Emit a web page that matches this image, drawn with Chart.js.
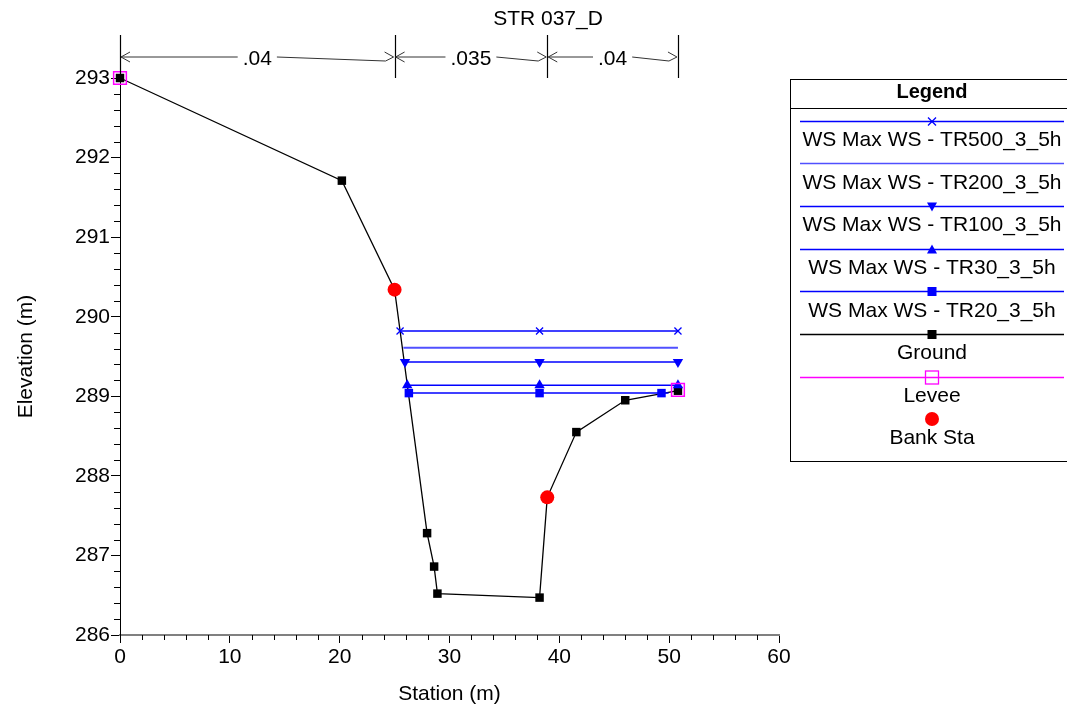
<!DOCTYPE html>
<html><head><meta charset="utf-8">
<script src="https://cdn.jsdelivr.net/npm/chart.js@4/dist/chart.umd.min.js"></script>
<style>html,body{margin:0;padding:0;background:#fff}#wrap{width:1067px;height:712px}</style>
</head><body><div id="wrap"><canvas id="c" width="1067" height="712"></canvas></div>
<script>
const FONT = '"Liberation Sans", Arial, sans-serif';
const chartTitle = 'STR 037_D';
const xLabel = 'Station (m)';
const yLabel = 'Elevation (m)';

const groundX = [0, 20.2, 25.0, 27.96, 28.6, 28.9, 38.2, 38.9, 41.55, 46.0, 50.8];
const groundY = [293.0, 291.71, 290.34, 287.28, 286.86, 286.52, 286.47, 287.73, 288.55, 288.95, 289.07];
const bankX = [25.0, 38.9];
const bankY = [290.34, 287.73];
const leveeX = [0, 50.8];
const leveeY = [293.0, 289.08];

const ws500X = [25.5, 38.2, 50.8];
const ws500Y = [289.82, 289.82, 289.82];
const ws200X = [25.8, 50.8];
const ws200Y = [289.61, 289.61];
const ws100X = [25.95, 38.2, 50.8];
const ws100Y = [289.43, 289.43, 289.43];
const ws30X = [26.15, 38.2, 50.8];
const ws30Y = [289.14, 289.14, 289.14];
const ws20X = [26.3, 38.2, 49.3, 49.95];
const ws20Y = [289.04, 289.04, 289.04, 289.04];

const nStations = [0, 25.0, 38.9, 50.8];
const nValues = ['.04', '.035', '.04'];

const xTicks = [0, 10, 20, 30, 40, 50, 60];
const yTicks = [286, 287, 288, 289, 290, 291, 292, 293];

const legendLabels = ['WS Max WS - TR500_3_5h', 'WS Max WS - TR200_3_5h', 'WS Max WS - TR100_3_5h',
  'WS Max WS - TR30_3_5h', 'WS Max WS - TR20_3_5h', 'Ground', 'Levee', 'Bank Sta'];

const BLUE = '#0000ff';
const BLUE2 = '#5050ff';

function pts(xs, ys) { return xs.map((x, i) => ({x: x, y: ys[i]})); }

const datasets = [
  {label: legendLabels[7], data: pts(bankX, bankY), showLine: false, pointStyle: 'circle', pointRadius: 7,
   backgroundColor: '#ff0000', borderColor: '#ff0000', pointBorderWidth: 0},
  {label: legendLabels[6], data: pts(leveeX, leveeY), showLine: false, pointStyle: 'rect', pointRadius: 9,
   backgroundColor: 'rgba(0,0,0,0)', borderColor: '#ff00ff', pointBorderWidth: 1.5},
  {label: legendLabels[4], data: pts(ws20X, ws20Y), pointStyle: 'rect', pointRadius: [6, 6, 6, 0],
   backgroundColor: BLUE, borderColor: BLUE, borderWidth: 1.5, pointBorderWidth: 0},
  {label: legendLabels[3], data: pts(ws30X, ws30Y), pointStyle: 'triangle', pointRadius: 6,
   backgroundColor: BLUE, borderColor: BLUE, borderWidth: 1.5, pointBorderWidth: 0},
  {label: legendLabels[2], data: pts(ws100X, ws100Y), pointStyle: 'triangle', pointRotation: 180, pointRadius: 6,
   backgroundColor: BLUE, borderColor: BLUE, borderWidth: 1.5, pointBorderWidth: 0},
  {label: legendLabels[1], data: pts(ws200X, ws200Y), pointRadius: 0,
   backgroundColor: BLUE2, borderColor: BLUE2, borderWidth: 2},
  {label: legendLabels[0], data: pts(ws500X, ws500Y), pointStyle: 'crossRot', pointRadius: 5,
   backgroundColor: BLUE, borderColor: BLUE, borderWidth: 1.5, pointBorderWidth: 1.3},
  {label: legendLabels[5], data: pts(groundX, groundY), pointStyle: 'rect', pointRadius: 6,
   backgroundColor: '#000', borderColor: '#000', borderWidth: 1.3, pointBorderWidth: 0}
];
datasets.forEach(d => { d.tension = 0; d.fill = false; d.clip = false; });

function drawMarker(ctx, type, x, y) {
  ctx.save();
  if (type === 'cross') {
    ctx.strokeStyle = BLUE; ctx.lineWidth = 1.3;
    ctx.beginPath(); ctx.moveTo(x - 4, y - 4); ctx.lineTo(x + 4, y + 4);
    ctx.moveTo(x + 4, y - 4); ctx.lineTo(x - 4, y + 4); ctx.stroke();
  } else if (type === 'down') {
    ctx.fillStyle = BLUE; ctx.beginPath();
    ctx.moveTo(x - 5, y - 4); ctx.lineTo(x + 5, y - 4); ctx.lineTo(x, y + 5); ctx.closePath(); ctx.fill();
  } else if (type === 'up') {
    ctx.fillStyle = BLUE; ctx.beginPath();
    ctx.moveTo(x - 5, y + 4); ctx.lineTo(x + 5, y + 4); ctx.lineTo(x, y - 5); ctx.closePath(); ctx.fill();
  } else if (type === 'bsq') {
    ctx.fillStyle = BLUE; ctx.fillRect(x - 4.5, y - 4.5, 9, 9);
  } else if (type === 'ksq') {
    ctx.fillStyle = '#000'; ctx.fillRect(x - 4.5, y - 4.5, 9, 9);
  } else if (type === 'msq') {
    ctx.strokeStyle = '#ff00ff'; ctx.lineWidth = 1.3; ctx.strokeRect(x - 6.5, y - 6.5, 13, 13);
  } else if (type === 'circle') {
    ctx.fillStyle = '#ff0000'; ctx.beginPath(); ctx.arc(x, y, 7, 0, Math.PI * 2); ctx.fill();
  }
  ctx.restore();
}

const decorPlugin = {
  id: 'decor',
  afterDraw(chart) {
    const ctx = chart.ctx, xs = chart.scales.x, ys = chart.scales.y, ca = chart.chartArea;
    ctx.save();
    // minor ticks
    ctx.strokeStyle = '#000'; ctx.lineWidth = 1;
    ctx.beginPath();
    for (let i = 1; i < 35; i++) {
      if (i % 5 === 0) continue;
      const py = Math.round(ys.getPixelForValue(286 + i * 0.2)) + 0.5;
      ctx.moveTo(ca.left - 6, py); ctx.lineTo(ca.left, py);
    }
    for (let i = 1; i < 30; i++) {
      if (i % 5 === 0) continue;
      const px = Math.round(xs.getPixelForValue(i * 2)) + 0.5;
      ctx.moveTo(px, ca.bottom); ctx.lineTo(px, ca.bottom + 5);
    }
    ctx.stroke();

    // title
    ctx.fillStyle = '#000'; ctx.font = '21px ' + FONT; ctx.textAlign = 'center'; ctx.textBaseline = 'middle';
    ctx.fillText(chartTitle, 548, 19);

    // Manning n annotations
    const topY = ca.top - 43, arrY = ca.top - 21;
    ctx.strokeStyle = '#000'; ctx.lineWidth = 1.2;
    ctx.beginPath();
    nStations.forEach(s => {
      const px = Math.round(xs.getPixelForValue(s)) + 0.5;
      ctx.moveTo(px, topY); ctx.lineTo(px, ca.top);
    });
    ctx.stroke();
    ctx.font = '21px ' + FONT;
    for (let i = 0; i < nValues.length; i++) {
      const xl = xs.getPixelForValue(nStations[i]) + 1, xr = xs.getPixelForValue(nStations[i + 1]) - 1;
      const cx = (xl + xr) / 2;
      const w = ctx.measureText(nValues[i]).width;
      ctx.strokeStyle = '#333'; ctx.lineWidth = 1;
      ctx.beginPath();
      ctx.moveTo(xl + 9, arrY - 5); ctx.lineTo(xl, arrY); ctx.lineTo(xl + 9, arrY + 5);
      ctx.moveTo(xl, arrY); ctx.lineTo(cx - w / 2 - 5, arrY);
      ctx.moveTo(cx + w / 2 + 5, arrY); ctx.lineTo(xr - 8, arrY + 4);
      ctx.moveTo(xr - 9, arrY - 5); ctx.lineTo(xr, arrY); ctx.lineTo(xr - 8, arrY + 4);
      ctx.stroke();
      ctx.fillStyle = '#000';
      ctx.fillText(nValues[i], cx, arrY + 2);
    }

    // legend box
    const L = 790.5, T = 79.5, B = 461.5, R = 1080;
    ctx.strokeStyle = '#000'; ctx.lineWidth = 1;
    ctx.strokeRect(L, T, R - L, B - T);
    ctx.beginPath(); ctx.moveTo(L, 108.5); ctx.lineTo(R, 108.5); ctx.stroke();
    const mx = 932;
    ctx.fillStyle = '#000'; ctx.font = 'bold 20px ' + FONT;
    ctx.fillText('Legend', mx, 92);
    const lineYs = [121, 163, 206, 249, 291, 334, 377];
    const lineCols = [BLUE, BLUE2, BLUE, BLUE, BLUE, '#000', '#ff00ff'];
    const marks = ['cross', null, 'down', 'up', 'bsq', 'ksq', 'msq'];
    const textYs = [140, 183, 225, 268, 311, 353, 396, 438];
    for (let i = 0; i < lineYs.length; i++) {
      ctx.strokeStyle = lineCols[i]; ctx.lineWidth = i === 1 ? 1.6 : 1.3;
      ctx.beginPath(); ctx.moveTo(800, lineYs[i] + 0.5); ctx.lineTo(1064, lineYs[i] + 0.5); ctx.stroke();
      if (marks[i]) drawMarker(ctx, marks[i], mx, lineYs[i] + 0.5);
    }
    drawMarker(ctx, 'circle', mx, 419);
    ctx.fillStyle = '#000'; ctx.font = '21px ' + FONT;
    legendLabels.forEach((t, i) => ctx.fillText(t, mx, textYs[i]));
    ctx.restore();
  }
};

new Chart(document.getElementById('c'), {
  type: 'line',
  data: {datasets: datasets},
  plugins: [decorPlugin],
  options: {
    responsive: false, animation: false, devicePixelRatio: 1,
    layout: {padding: {top: 78, right: 288, left: 0, bottom: 0}},
    plugins: {legend: {display: false}, tooltip: {enabled: false}, title: {display: false}},
    scales: {
      x: {
        type: 'linear', min: 0, max: 60,
        afterFit: s => { s.height = 77; },
        afterBuildTicks: s => { s.ticks = xTicks.map(v => ({value: v})); },
        ticks: {color: '#000', font: {family: FONT, size: 21}, padding: 2, maxRotation: 0},
        grid: {drawOnChartArea: false, drawTicks: true, tickLength: 8, color: '#000'},
        border: {display: true, color: '#808080', width: 2},
        title: {display: true, text: xLabel, color: '#000', font: {family: FONT, size: 21}, padding: {top: 4, bottom: 5}}
      },
      y: {
        type: 'linear', min: 286, max: 293,
        afterFit: s => { s.width = 120; },
        afterBuildTicks: s => { s.ticks = yTicks.map(v => ({value: v})); },
        ticks: {color: '#000', font: {family: FONT, size: 21}, padding: 1},
        grid: {drawOnChartArea: false, drawTicks: true, tickLength: 9, color: '#000'},
        border: {display: true, color: '#000', width: 1},
        title: {display: true, text: yLabel, color: '#000', font: {family: FONT, size: 21}, padding: {top: 14, bottom: 0}}
      }
    }
  }
});
</script>
</body></html>
